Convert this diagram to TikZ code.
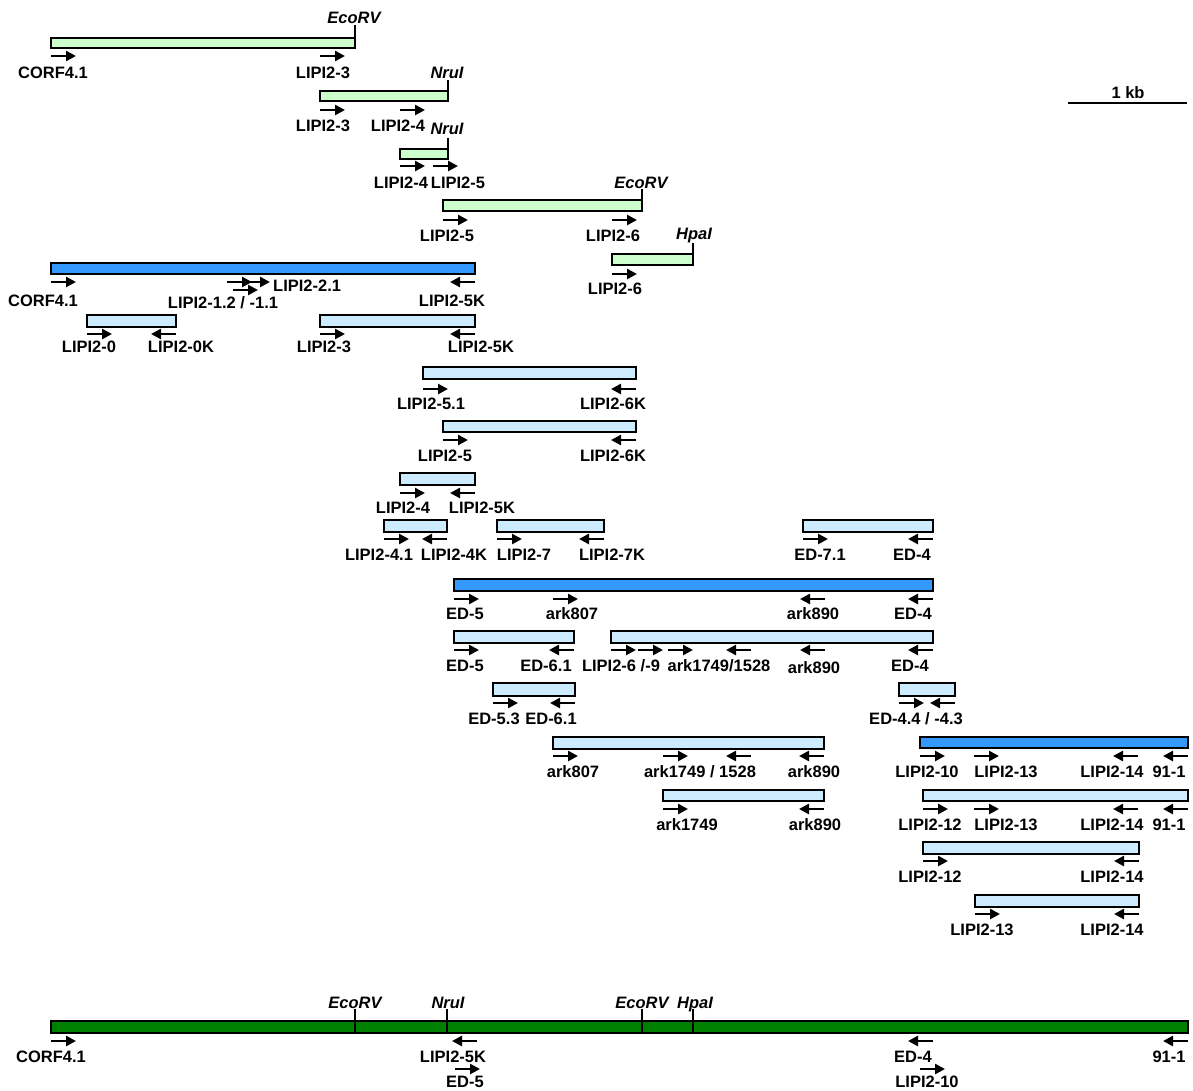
\documentclass[tikz,border=0pt]{standalone}
\usepackage{fontspec}
\setmainfont{Liberation Sans}
\usetikzlibrary{arrows.meta}
\definecolor{lgreen}{HTML}{CCFFCC}
\definecolor{mblue}{HTML}{3399FF}
\definecolor{lblue}{HTML}{CCEBFF}
\definecolor{dgreen}{HTML}{008000}
\newcommand{\lblfont}{\fontsize{16.5}{18}\selectfont\bfseries}
\newcommand{\enzfont}{\fontsize{16.5}{18}\selectfont\bfseries\itshape}
\tikzset{
  barbox/.style={draw=black, line width=2.5pt},
  primer/.style={line width=2.8pt, -{Triangle[length=10pt,width=10pt]}},
  lbl/.style={anchor=base, inner sep=0pt, font=\lblfont},
  enz/.style={anchor=base, inner sep=0pt, font=\enzfont},
  sitetick/.style={line width=2.2pt},
}
% bar: fill, x1, y1, x2, y2
\newcommand{\seg}[5]{\draw[barbox, fill=#1] (#2,#3) rectangle (#4,#5);}
% primer arrow: from x1 to x2 at y
\newcommand{\pr}[3]{\draw[primer] (#1,#3) -- (#2,#3);}
% label: x, baseline y, text
\newcommand{\lab}[3]{\node[lbl] (lab-#1-#2) at (#1,#2) {#3};}
\newcommand{\enzlab}[3]{\node[enz] (enz-#1-#2) at (#1,#2) {#3};}
\begin{document}
\begin{tikzpicture}[x=1pt, y=-1pt]
\useasboundingbox (0,0) rectangle (1193,1090);
% ---------- R1
\seg{lgreen}{51}{38}{355}{48}
\draw[sitetick] (355,38) -- (355,25);
\enzlab{354}{23}{EcoRV}
\pr{51}{76}{56}\pr{320}{345}{56}
\lab{53}{78}{CORF4.1}\lab{323}{78}{LIPI2-3}
% ---------- R2
\seg{lgreen}{320}{91}{448}{101}
\draw[sitetick] (448,91) -- (448,80);
\enzlab{447}{78}{NruI}
\pr{320}{345}{110}\pr{400}{425}{110}
\lab{323}{131}{LIPI2-3}\lab{398}{131}{LIPI2-4}
% ---------- R3
\seg{lgreen}{400}{149}{448}{159}
\draw[sitetick] (448,149) -- (448,138);
\enzlab{447}{134}{NruI}
\pr{400}{425}{166}\pr{433}{458}{166}
\lab{401}{188}{LIPI2-4}\lab{458}{188}{LIPI2-5}
% ---------- R4
\seg{lgreen}{443}{200}{642}{211}
\draw[sitetick] (642,200) -- (642,189);
\enzlab{641}{188}{EcoRV}
\pr{443}{468}{220}\pr{612}{637}{220}
\lab{447}{241}{LIPI2-5}\lab{613}{241}{LIPI2-6}
% ---------- R5
\seg{lgreen}{612}{254}{693}{265}
\draw[sitetick] (693,254) -- (693,243);
\enzlab{694}{239}{HpaI}
\pr{612}{637}{274}
\lab{615}{294}{LIPI2-6}
% ---------- R6
\seg{mblue}{51}{263}{475}{274}
\pr{51}{76}{282}\pr{227}{252}{282}\pr{245}{270}{282}\pr{475}{450}{282}
\pr{233}{258}{290}
\lab{43}{306}{CORF4.1}
\node[lbl, anchor=base west] (lab-221) at (273,291) {LIPI2-2.1};
\lab{223}{308}{LIPI2-1.2 / -1.1}
\lab{452}{306}{LIPI2-5K}
% ---------- R7
\seg{lblue}{87}{315}{176}{327}
\seg{lblue}{320}{315}{475}{327}
\pr{87}{112}{334}\pr{176}{151}{334}\pr{320}{345}{334}\pr{475}{450}{334}
\lab{89}{352}{LIPI2-0}\lab{181}{352}{LIPI2-0K}\lab{324}{352}{LIPI2-3}\lab{481}{352}{LIPI2-5K}
% ---------- R8
\seg{lblue}{423}{367}{636}{379}
\pr{423}{448}{389}\pr{636}{611}{389}
\lab{431}{409}{LIPI2-5.1}\lab{613}{409}{LIPI2-6K}
% ---------- R9
\seg{lblue}{443}{421}{636}{432}
\pr{443}{468}{440}\pr{636}{611}{440}
\lab{445}{461}{LIPI2-5}\lab{613}{461}{LIPI2-6K}
% ---------- R10
\seg{lblue}{400}{473}{475}{485}
\pr{400}{425}{493}\pr{475}{450}{493}
\lab{403}{513}{LIPI2-4}\lab{482}{513}{LIPI2-5K}
% ---------- R11
\seg{lblue}{384}{520}{447}{532}
\seg{lblue}{497}{520}{604}{532}
\seg{lblue}{803}{520}{933}{532}
\pr{384}{409}{539}\pr{447}{422}{539}\pr{497}{522}{539}\pr{604}{579}{539}
\pr{803}{828}{539}\pr{933}{908}{539}
\lab{379}{560}{LIPI2-4.1}\lab{454}{560}{LIPI2-4K}\lab{524}{560}{LIPI2-7}\lab{612}{560}{LIPI2-7K}
\lab{820}{560}{ED-7.1}\lab{912}{560}{ED-4}
% ---------- R12
\seg{mblue}{454}{579}{933}{591}
\pr{454}{479}{599}\pr{553}{578}{599}\pr{825}{800}{599}\pr{933}{908}{599}
\lab{465}{619}{ED-5}\lab{572}{619}{ark807}\lab{813}{619}{ark890}\lab{913}{619}{ED-4}
% ---------- R13
\seg{lblue}{454}{631}{574}{643}
\seg{lblue}{611}{631}{933}{643}
\pr{454}{479}{650}\pr{574}{549}{650}
\pr{611}{636}{650}\pr{638}{663}{650}\pr{668}{693}{650}\pr{751}{726}{650}\pr{825}{800}{650}\pr{933}{908}{650}
\lab{465}{671}{ED-5}\lab{546}{671}{ED-6.1}\lab{621}{671}{LIPI2-6 /-9}\lab{719}{671}{ark1749/1528}
\lab{814}{673}{ark890}\lab{910}{671}{ED-4}
% ---------- R14
\seg{lblue}{493}{683}{575}{696}
\seg{lblue}{899}{683}{955}{696}
\pr{493}{518}{703}\pr{575}{550}{703}\pr{899}{924}{703}\pr{955}{930}{703}
\lab{494}{724}{ED-5.3}\lab{551}{724}{ED-6.1}\lab{916}{724}{ED-4.4 / -4.3}
% ---------- R15
\seg{lblue}{553}{737}{824}{749}
\seg{mblue}{920}{737}{1188}{748}
\pr{553}{578}{756}\pr{663}{688}{756}\pr{751}{726}{756}\pr{824}{799}{756}
\pr{920}{945}{756}\pr{974}{999}{756}\pr{1138}{1113}{756}\pr{1188}{1163}{756}
\lab{573}{777}{ark807}\lab{700}{777}{ark1749 / 1528}\lab{814}{777}{ark890}
\lab{927}{777}{LIPI2-10}\lab{1006}{777}{LIPI2-13}\lab{1112}{777}{LIPI2-14}\lab{1169}{777}{91-1}
% ---------- R16
\seg{lblue}{663}{790}{824}{801}
\seg{lblue}{923}{790}{1188}{801}
\pr{663}{688}{809}\pr{824}{799}{809}
\pr{923}{948}{809}\pr{974}{999}{809}\pr{1138}{1113}{809}\pr{1188}{1163}{809}
\lab{687}{830}{ark1749}\lab{815}{830}{ark890}
\lab{930}{830}{LIPI2-12}\lab{1006}{830}{LIPI2-13}\lab{1112}{830}{LIPI2-14}\lab{1169}{830}{91-1}
% ---------- R17
\seg{lblue}{923}{842}{1139}{854}
\pr{923}{948}{861}\pr{1139}{1114}{861}
\lab{930}{882}{LIPI2-12}\lab{1112}{882}{LIPI2-14}
% ---------- R18
\seg{lblue}{975}{895}{1139}{907}
\pr{975}{1000}{914}\pr{1139}{1114}{914}
\lab{982}{935}{LIPI2-13}\lab{1112}{935}{LIPI2-14}
% ---------- full map
\seg{dgreen}{51}{1021}{1188}{1033}
\draw[sitetick] (355,1009) -- (355,1034);
\draw[sitetick] (447,1009) -- (447,1034);
\draw[sitetick] (642,1009) -- (642,1034);
\draw[sitetick] (693,1009) -- (693,1034);
\enzlab{355}{1008}{EcoRV}\enzlab{448}{1008}{NruI}\enzlab{642}{1008}{EcoRV}\enzlab{695}{1008}{HpaI}
\pr{51}{76}{1041}\pr{477}{452}{1041}\pr{933}{908}{1041}\pr{1188}{1163}{1041}
\pr{455}{480}{1069}\pr{920}{945}{1069}
\lab{51}{1062}{CORF4.1}\lab{453}{1062}{LIPI2-5K}\lab{913}{1062}{ED-4}\lab{1169}{1062}{91-1}
\lab{465}{1087}{ED-5}\lab{927}{1087}{LIPI2-10}
% ---------- scale bar
\draw[line width=2.5pt] (1068,103) coordinate (sbl) -- (1187,103) coordinate (sbr);
\lab{1128}{98}{1 kb}
\end{tikzpicture}
\end{document}
